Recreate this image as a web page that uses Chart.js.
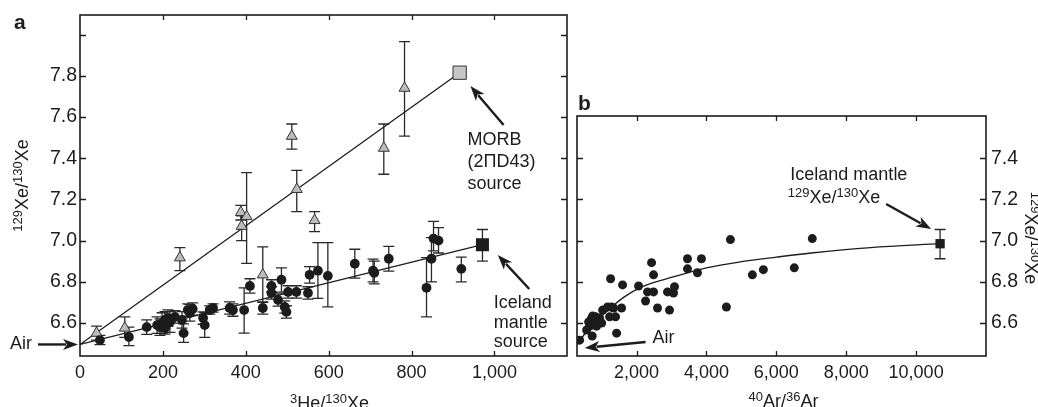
<!DOCTYPE html>
<html>
<head>
<meta charset="utf-8">
<script src="https://cdn.jsdelivr.net/npm/chart.js@4.4.1/dist/chart.umd.min.js"></script>
<style>
  html, body { margin: 0; padding: 0; background: #fff; }
  #wrap { position: relative; width: 1038px; height: 407px; overflow: hidden; }
  #wrap canvas { position: absolute; left: 0; top: 0; }
</style>
</head>
<body>
<div id="wrap">
  <canvas id="chartA" width="1038" height="407"></canvas>
  <canvas id="chartB" width="1038" height="407"></canvas>
</div>
<script>
/* ---------- panel a : 3He/130Xe vs 129Xe/130Xe ---------- */
const heTicks = [0, 200, 400, 600, 800, 1000];
const xeTicksA = [6.6, 6.8, 7.0, 7.2, 7.4, 7.6, 7.8, 8.0];
const xeLabelsA = [6.6, 6.8, 7.0, 7.2, 7.4, 7.6, 7.8];

// Iceland samples (filled circles)
const iceHe = [48, 118, 161, 186, 193, 198, 205, 205, 212, 217, 229, 246, 250, 260, 265, 272, 297, 301, 313, 321,
               361, 369, 396, 410, 441, 462, 462, 478, 486, 494, 498, 502, 522, 550, 554, 574, 598, 663, 707, 710,
               745, 836, 848, 853, 865, 920];
const iceXe = [6.517, 6.532, 6.58, 6.59, 6.58, 6.60, 6.615, 6.576, 6.624, 6.605, 6.63, 6.615, 6.551, 6.663, 6.649, 6.668, 6.624, 6.59, 6.663, 6.673,
               6.673, 6.663, 6.663, 6.78, 6.673, 6.78, 6.746, 6.712, 6.81, 6.678, 6.654, 6.751, 6.751, 6.746, 6.834, 6.854, 6.829, 6.888, 6.854, 6.844,
               6.912, 6.771, 6.912, 7.01, 7.0, 6.863];
const iceLo = [6.495, 6.49, 6.545, 6.55, 6.54, 6.55, 6.575, 6.546, 6.584, 6.555, 6.60, 6.575, 6.506, 6.633, 6.609, 6.638, 6.594, 6.53, 6.643, 6.653,
               6.643, 6.633, 6.551, 6.745, 6.643, 6.75, 6.716, 6.682, 6.75, 6.648, 6.624, 6.721, 6.721, 6.716, 6.794, 6.72, 6.678, 6.818, 6.80, 6.79,
               6.852, 6.63, 6.80, 6.95, 6.94, 6.80];
const iceHi = [6.54, 6.58, 6.615, 6.63, 6.62, 6.65, 6.655, 6.606, 6.664, 6.655, 6.66, 6.655, 6.596, 6.693, 6.689, 6.698, 6.654, 6.65, 6.683, 6.693,
               6.703, 6.693, 6.771, 6.815, 6.703, 6.81, 6.776, 6.742, 6.868, 6.708, 6.684, 6.781, 6.781, 6.776, 6.874, 6.99, 6.99, 6.958, 6.91, 6.90,
               6.972, 6.917, 7.015, 7.093, 7.063, 6.92];

// MORB 2ΠD43 samples (grey triangles)
const morbHe = [40, 108, 241, 388, 390, 402, 441, 511, 523, 566, 733, 783];
const morbXe = [6.551, 6.576, 6.917, 7.137, 7.07, 7.117, 6.834, 7.507, 7.249, 7.098, 7.449, 7.74];
const morbLo = [6.517, 6.53, 6.854, 7.10, 7.0, 6.89, 6.70, 7.444, 7.141, 7.044, 7.322, 7.507];
const morbHi = [6.585, 6.63, 6.966, 7.171, 7.12, 7.33, 6.97, 7.566, 7.341, 7.141, 7.566, 7.966];

// source end-members and the two lines from air
const morbSrcHe = [916], morbSrcXe = [7.815];
const iceSrcHe = [971], iceSrcXe = [6.98], iceSrcLo = [6.90], iceSrcHi = [7.054];
const morbLineHe = [0, 916], morbLineXe = [6.496, 7.815];
const iceLineHe = [0, 971], iceLineXe = [6.496, 6.98];

/* ---------- panel b : 40Ar/36Ar vs 129Xe/130Xe ---------- */
const arTicks = [2000, 4000, 6000, 8000, 10000];
const xeTicksB = [6.6, 6.8, 7.0, 7.2, 7.4];

const sampAr = [371, 571, 730, 629, 714, 771, 829, 886, 943, 657, 800, 1000, 857, 743, 1029, 1171, 1229, 1286, 1343, 1400,
                1429, 1571, 1257, 1600, 2057, 2257, 2314, 2429, 2486, 2486, 2600, 2886, 2943, 3057, 3086, 3457, 3457, 3743, 3857, 4571,
                4686, 5314, 5629, 6514, 7029];
const sampXe = [6.517, 6.566, 6.537, 6.605, 6.624, 6.615, 6.63, 6.605, 6.624, 6.585, 6.59, 6.60, 6.585, 6.634, 6.663, 6.678, 6.63, 6.678, 6.673, 6.63,
                6.551, 6.673, 6.815, 6.785, 6.78, 6.707, 6.751, 6.893, 6.834, 6.751, 6.673, 6.751, 6.663, 6.746, 6.776, 6.912, 6.863, 6.844, 6.912, 6.678,
                7.005, 6.834, 6.859, 6.868, 7.01];

const mantleAr = [10686], mantleXe = [6.985], mantleLo = [6.912], mantleHi = [7.054];

// mixing curve
const curveAr = [295.5, 600, 900, 1200, 1650, 2150, 3100, 4000, 5000, 6000, 7000, 8700, 10686];
const curveXe = [6.496, 6.565, 6.617, 6.665, 6.727, 6.776, 6.826, 6.868, 6.898, 6.92, 6.94, 6.966, 6.985];

/* ---------- helpers ---------- */
const INK = '#1c1c1c';
const FONT = "'Liberation Sans', Arial, Helvetica, sans-serif";

const pts = (xs, ys) => xs.map((x, i) => ({ x: x, y: ys[i] }));

function drawRich(ctx, parts, x, y, align) {
    const big = '18px ' + FONT, small = '13px ' + FONT;
    let w = 0;
    parts.forEach(p => { ctx.font = p.sup ? small : big; w += ctx.measureText(p.t).width; });
    let cx = align === 'center' ? x - w / 2 : (align === 'right' ? x - w : x);
    ctx.textAlign = 'left';
    ctx.textBaseline = 'alphabetic';
    parts.forEach(p => {
        ctx.font = p.sup ? small : big;
        ctx.fillText(p.t, cx, p.sup ? y - 6 : y);
        cx += ctx.measureText(p.t).width;
    });
}

function arrow(ctx, x1, y1, x2, y2) {
    const a = Math.atan2(y2 - y1, x2 - x1), L = 15, W = 5.5;
    const bx = x2 - L * Math.cos(a), by = y2 - L * Math.sin(a);
    ctx.lineWidth = 2.4;
    ctx.beginPath();
    ctx.moveTo(x1, y1);
    ctx.lineTo(x2 - (L - 3) * Math.cos(a), y2 - (L - 3) * Math.sin(a));
    ctx.stroke();
    ctx.beginPath();
    ctx.moveTo(x2, y2);
    ctx.lineTo(bx + W * Math.sin(a), by - W * Math.cos(a));
    ctx.lineTo(x2 - (L - 4) * Math.cos(a), y2 - (L - 4) * Math.sin(a));
    ctx.lineTo(bx - W * Math.sin(a), by + W * Math.cos(a));
    ctx.closePath();
    ctx.fill();
}

function plainText(ctx, lines, x, y, step) {
    ctx.font = '18px ' + FONT;
    ctx.textAlign = 'left';
    ctx.textBaseline = 'middle';
    lines.forEach((t, i) => ctx.fillText(t, x, y + i * step));
}

/* frame round the plot area and inward ticks on all four sides */
function drawFrame(chart) {
    const { ctx, chartArea: a, scales: { x, y } } = chart;
    ctx.save();
    ctx.strokeStyle = INK;
    ctx.lineWidth = 1.6;
    ctx.strokeRect(a.left, a.top, a.right - a.left, a.bottom - a.top);
    ctx.lineWidth = 1.3;
    ctx.beginPath();
    x.ticks.forEach(t => {
        const px = Math.round(x.getPixelForValue(t.value)) + 0.5;
        if (px < a.left + 2 || px > a.right - 2) return;
        ctx.moveTo(px, a.bottom); ctx.lineTo(px, a.bottom - 5);
        ctx.moveTo(px, a.top); ctx.lineTo(px, a.top + 5);
    });
    y.ticks.forEach(t => {
        const py = Math.round(y.getPixelForValue(t.value)) + 0.5;
        if (py < a.top + 2 || py > a.bottom - 2) return;
        ctx.moveTo(a.left, py); ctx.lineTo(a.left + 6, py);
        ctx.moveTo(a.right, py); ctx.lineTo(a.right - 6, py);
    });
    ctx.stroke();
    ctx.restore();
}

/* vertical error bars stored on datasets as errLo / errHi */
const errorBars = {
    id: 'errorBars',
    beforeDatasetsDraw(chart) {
        const { ctx, scales: { x, y } } = chart;
        ctx.save();
        ctx.strokeStyle = '#2a2a2a';
        ctx.lineWidth = 1.3;
        chart.data.datasets.forEach(ds => {
            if (!ds.errLo) return;
            ds.data.forEach((p, i) => {
                const px = x.getPixelForValue(p.x);
                const yl = y.getPixelForValue(ds.errLo[i]);
                const yh = y.getPixelForValue(ds.errHi[i]);
                ctx.beginPath();
                ctx.moveTo(px, yl); ctx.lineTo(px, yh);
                ctx.moveTo(px - 5.5, yl); ctx.lineTo(px + 5.5, yl);
                ctx.moveTo(px - 5.5, yh); ctx.lineTo(px + 5.5, yh);
                ctx.stroke();
            });
        });
        ctx.restore();
    }
};

function axisOpts(min, max, tickList, labelFn, size, pad, extra) {
    return Object.assign({
        type: 'linear', min: min, max: max,
        afterBuildTicks: s => { s.ticks = tickList.map(v => ({ value: v })); },
        grid: { display: false, drawTicks: false },
        border: { display: false },
        ticks: { font: { family: FONT, size: size }, color: INK, padding: pad, autoSkip: false, maxRotation: 0, callback: labelFn }
    }, extra);
}

/* ==================== PANEL A ==================== */

const decorA = {
    id: 'decorA',
    afterDraw(chart) {
        const { ctx, chartArea: a, scales: { x, y } } = chart;
        drawFrame(chart);
        ctx.save();
        ctx.fillStyle = INK;
        ctx.strokeStyle = INK;

        ctx.font = 'bold 21px ' + FONT;
        ctx.textAlign = 'left';
        ctx.textBaseline = 'alphabetic';
        ctx.fillText('a', 14, 29);

        // axis titles
        drawRich(ctx, [{ t: '3', sup: true }, { t: 'He/' }, { t: '130', sup: true }, { t: 'Xe' }], (a.left + a.right) / 2 + 6, 409, 'center');
        ctx.save();
        ctx.translate(28, (a.top + a.bottom) / 2);
        ctx.rotate(-Math.PI / 2);
        drawRich(ctx, [{ t: '129', sup: true }, { t: 'Xe/' }, { t: '130', sup: true }, { t: 'Xe' }], 0, 0, 'center');
        ctx.restore();

        // annotations
        plainText(ctx, ['MORB', '(2\u03A0D43)', 'source'], x.getPixelForValue(935), y.getPixelForValue(7.488), 22);
        arrow(ctx, x.getPixelForValue(1022), y.getPixelForValue(7.561), x.getPixelForValue(942), y.getPixelForValue(7.75));
        plainText(ctx, ['Iceland', 'mantle', 'source'], x.getPixelForValue(998), y.getPixelForValue(6.697), 19.5);
        arrow(ctx, x.getPixelForValue(1084), y.getPixelForValue(6.765), x.getPixelForValue(1008), y.getPixelForValue(6.93));
        plainText(ctx, ['Air'], 10, y.getPixelForValue(6.496), 0);
        arrow(ctx, 38, y.getPixelForValue(6.496), a.left - 2, y.getPixelForValue(6.496));
        ctx.restore();
    }
};

new Chart(document.getElementById('chartA'), {
    type: 'scatter',
    data: {
        datasets: [
            { label: 'Iceland', data: pts(iceHe, iceXe), errLo: iceLo, errHi: iceHi, pointStyle: 'circle', pointRadius: 4.9,
              backgroundColor: INK, borderColor: INK, borderWidth: 0, order: 1 },
            { label: 'MORB', data: pts(morbHe, morbXe), errLo: morbLo, errHi: morbHi, pointStyle: 'triangle', pointRadius: 6.3,
              backgroundColor: '#bcbcbc', borderColor: '#333', borderWidth: 1, order: 1 },
            { label: 'MORB source', data: pts(morbSrcHe, morbSrcXe), pointStyle: 'rect', pointRadius: 9.4,
              backgroundColor: '#c6c6c6', borderColor: '#333', borderWidth: 1, order: 1 },
            { label: 'Iceland source', data: pts(iceSrcHe, iceSrcXe), errLo: iceSrcLo, errHi: iceSrcHi, pointStyle: 'rect', pointRadius: 9.2,
              backgroundColor: INK, borderColor: INK, borderWidth: 0, order: 1 },
            { label: 'MORB line', data: pts(morbLineHe, morbLineXe), showLine: true, pointRadius: 0, borderColor: INK, borderWidth: 1.3, order: 2 },
            { label: 'Iceland line', data: pts(iceLineHe, iceLineXe), showLine: true, pointRadius: 0, borderColor: INK, borderWidth: 1.3, order: 2 }
        ]
    },
    options: {
        responsive: false,
        animation: false,
        events: [],
        layout: { padding: { left: 0, top: 15, right: 471, bottom: 0 } },
        plugins: { legend: { display: false }, tooltip: { enabled: false } },
        scales: {
            x: axisOpts(0, 1175, heTicks, v => v.toLocaleString('en-US'), 18, 6, { afterFit: s => { s.height = 51; } }),
            y: axisOpts(6.44, 8.095, xeTicksA, v => xeLabelsA.some(l => Math.abs(l - v) < 1e-6) ? v.toFixed(1) : '', 19.5, 3,
                        { afterFit: s => { s.width = 80; } })
        }
    },
    plugins: [errorBars, decorA]
});

/* ==================== PANEL B ==================== */

const decorB = {
    id: 'decorB',
    afterDraw(chart) {
        const { ctx, chartArea: a, scales: { x, y } } = chart;
        drawFrame(chart);
        ctx.save();
        ctx.fillStyle = INK;
        ctx.strokeStyle = INK;

        ctx.font = 'bold 21px ' + FONT;
        ctx.textAlign = 'left';
        ctx.textBaseline = 'alphabetic';
        ctx.fillText('b', a.left + 1, a.top - 6);

        drawRich(ctx, [{ t: '40', sup: true }, { t: 'Ar/' }, { t: '36', sup: true }, { t: 'Ar' }], (a.left + a.right) / 2 + 2, 407, 'center');
        ctx.save();
        ctx.translate(1025, (a.top + a.bottom) / 2 + 2);
        ctx.rotate(Math.PI / 2);
        drawRich(ctx, [{ t: '129', sup: true }, { t: 'Xe/' }, { t: '130', sup: true }, { t: 'Xe' }], 0, 0, 'center');
        ctx.restore();

        plainText(ctx, ['Iceland mantle'], x.getPixelForValue(6400), y.getPixelForValue(7.318), 0);
        drawRich(ctx, [{ t: '129', sup: true }, { t: 'Xe/' }, { t: '130', sup: true }, { t: 'Xe' }], x.getPixelForValue(6330), y.getPixelForValue(7.212) + 6.5, 'left');
        arrow(ctx, x.getPixelForValue(9143), y.getPixelForValue(7.178), x.getPixelForValue(10429), y.getPixelForValue(7.056));
        plainText(ctx, ['Air'], x.getPixelForValue(2457), y.getPixelForValue(6.527), 0);
        arrow(ctx, x.getPixelForValue(2257), y.getPixelForValue(6.508), x.getPixelForValue(514), y.getPixelForValue(6.479));
        ctx.restore();
    }
};

new Chart(document.getElementById('chartB'), {
    type: 'scatter',
    data: {
        datasets: [
            { label: 'Iceland samples', data: pts(sampAr, sampXe), pointStyle: 'circle', pointRadius: 4.5,
              backgroundColor: INK, borderColor: INK, borderWidth: 0, order: 1 },
            { label: 'Iceland mantle', data: pts(mantleAr, mantleXe), errLo: mantleLo, errHi: mantleHi, pointStyle: 'rect', pointRadius: 6.6,
              backgroundColor: INK, borderColor: INK, borderWidth: 0, order: 1 },
            { label: 'mixing curve', data: pts(curveAr, curveXe), showLine: true, pointRadius: 0, borderColor: INK, borderWidth: 1.3,
              cubicInterpolationMode: 'monotone', order: 2 }
        ]
    },
    options: {
        responsive: false,
        animation: false,
        events: [],
        layout: { padding: { left: 577, top: 116, right: 0, bottom: 0 } },
        plugins: { legend: { display: false }, tooltip: { enabled: false } },
        scales: {
            x: axisOpts(295.5, 12000, arTicks, v => v.toLocaleString('en-US'), 18, 6, { afterFit: s => { s.height = 51; } }),
            y: axisOpts(6.44, 7.605, xeTicksB, v => v.toFixed(1), 19.5, 5, { position: 'right', afterFit: s => { s.width = 52; } })
        }
    },
    plugins: [errorBars, decorB]
});
</script>
</body>
</html>
